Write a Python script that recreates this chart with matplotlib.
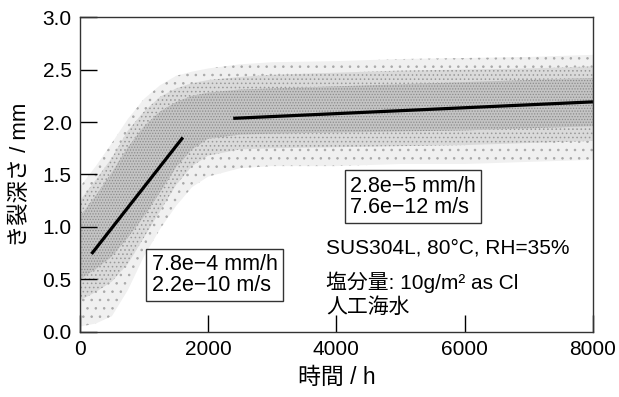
import matplotlib
matplotlib.use("Agg")
import matplotlib.pyplot as plt

plt.rcParams['font.family'] = ['Liberation Sans', 'Noto Sans CJK JP', 'DejaVu Sans']
plt.rcParams['hatch.color'] = '#8c8c8c'
plt.rcParams['hatch.linewidth'] = 0.6

# Scatter cloud envelope (time h, depth mm)
band_time = [0, 250, 500, 750, 1000, 1250, 1500, 1750, 2000, 2500, 3000, 4000, 5000, 6000, 7000, 8000]
core_low = [0.50, 0.60, 0.72, 0.90, 1.10, 1.33, 1.57, 1.74, 1.84, 1.88, 1.89, 1.90, 1.91, 1.92, 1.94, 1.96]
core_high = [1.10, 1.30, 1.52, 1.76, 1.96, 2.10, 2.19, 2.25, 2.28, 2.31, 2.32, 2.34, 2.36, 2.38, 2.40, 2.42]
mid_low = [0.30, 0.38, 0.48, 0.65, 0.90, 1.15, 1.40, 1.58, 1.68, 1.74, 1.75, 1.76, 1.77, 1.78, 1.80, 1.82]
mid_high = [1.25, 1.45, 1.66, 1.92, 2.10, 2.24, 2.32, 2.37, 2.40, 2.43, 2.45, 2.47, 2.49, 2.50, 2.51, 2.53]
outer_low = [0.05, 0.08, 0.15, 0.40, 0.72, 0.98, 1.20, 1.38, 1.48, 1.56, 1.58, 1.58, 1.60, 1.60, 1.62, 1.64]
outer_high = [1.38, 1.58, 1.80, 2.03, 2.22, 2.35, 2.44, 2.48, 2.51, 2.55, 2.57, 2.58, 2.60, 2.61, 2.62, 2.64]

# Fitted lines
fit1_t = [182, 1606]
fit1_d = [0.743, 1.853]
fit2_t = [2391, 8000]
fit2_d = [2.035, 2.192]

fig = plt.figure(figsize=(6.19, 3.97), dpi=100)
ax = fig.add_axes([0.129, 0.164, 0.829, 0.793])

ax.fill_between(band_time, outer_low, outer_high, facecolor='#f0f0f0', edgecolor='none', linewidth=0)
ax.fill_between(band_time, outer_low, outer_high, facecolor='none', edgecolor='#a8a8a8', linewidth=0, hatch='..')
ax.fill_between(band_time, mid_low, mid_high, facecolor='#dadada', edgecolor='none', linewidth=0)
ax.fill_between(band_time, mid_low, mid_high, facecolor='none', edgecolor='#999999', linewidth=0, hatch='....')
ax.fill_between(band_time, core_low, core_high, facecolor='#c4c4c4', edgecolor='none', linewidth=0)
ax.fill_between(band_time, core_low, core_high, facecolor='none', edgecolor='#8c8c8c', linewidth=0, hatch='......')

ax.plot(fit1_t, fit1_d, color='black', lw=2.3, solid_capstyle='butt')
ax.plot(fit2_t, fit2_d, color='black', lw=2.3, solid_capstyle='butt')

ax.set_xlim(0, 8000)
ax.set_ylim(0, 3.0)
ax.set_xticks([0, 2000, 4000, 6000, 8000])
ax.set_yticks([0.0, 0.5, 1.0, 1.5, 2.0, 2.5, 3.0])
ax.set_yticklabels(['0.0', '0.5', '1.0', '1.5', '2.0', '2.5', '3.0'])
ax.tick_params(direction='in', length=12, width=1, labelsize=15, pad=6,
               top=False, right=False)
for s in ax.spines.values():
    s.set_linewidth(1.0)
    s.set_color('#333333')

ax.set_xlabel('時間 / h', fontsize=16.5, labelpad=5)
ax.set_ylabel('き裂深さ / mm', fontsize=16, labelpad=8)

box = dict(boxstyle='square,pad=0.25', facecolor='white', edgecolor='#333333', linewidth=1.0)
ax.text(1120, 0.543, '7.8e−4 mm/h\n2.2e−10 m/s', fontsize=15.5, ha='left', va='center',
        linespacing=1.0, bbox=box)
ax.text(4210, 1.29, '2.8e−5 mm/h\n7.6e−12 m/s', fontsize=15.5, ha='left', va='center',
        linespacing=1.0, bbox=box)
ax.text(3836, 0.80, 'SUS304L, 80°C, RH=35%', fontsize=15, ha='left', va='center')
ax.text(3836, 0.476, '塩分量: 10g/m² as Cl', fontsize=15, ha='left', va='center')
ax.text(3836, 0.238, '人工海水', fontsize=15, ha='left', va='center')

fig.savefig('out.png', dpi=100)
